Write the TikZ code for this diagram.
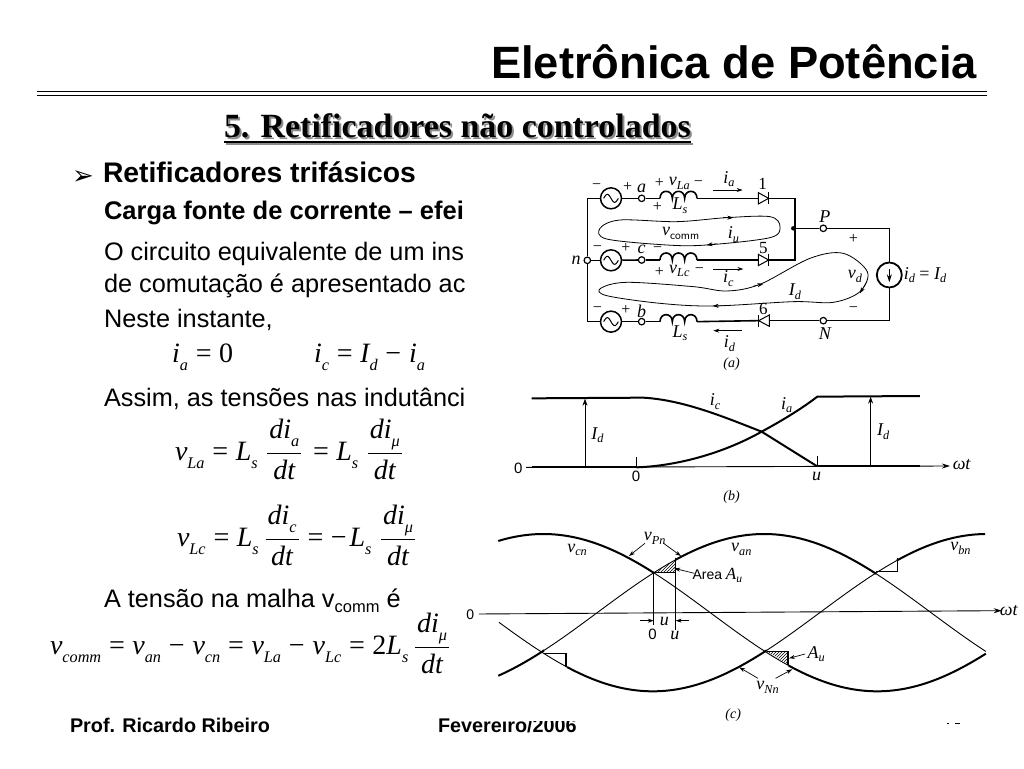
\documentclass[tikz,border=0pt]{standalone}
\usepackage{fontspec}
\usetikzlibrary{patterns,arrows.meta}
\setmainfont{Liberation Sans}
\newfontfamily\tms{Liberation Serif}
\newfontfamily\djv{DejaVu Sans}
\newcommand{\px}[1]{\fontsize{#1pt}{#1pt}\selectfont}
\newcommand{\sbx}[1]{\raisebox{-.3em}{\scalebox{.58}{#1}}}
\newcommand{\lsb}[1]{\raisebox{-.2em}{\scalebox{.68}{#1}}}
\newcommand{\frc}[2]{\raisebox{4.5pt}{$\vcenter{\hbox{$\displaystyle{\hbox{\hspace{2pt}\raisebox{5pt}{#1}\hspace{2pt}}\above 1pt\hbox{\rule{0pt}{22pt}#2}}$}}$}}
\newcommand{\eqm}{\hspace{.22em}=\hspace{.22em}}
\newcommand{\eqn}{\hspace{.28em}{\upshape −}\hspace{.28em}}
\newcommand{\coil}[2]{\draw[wire] (#1,#2) .. controls +(0,-28) and +(0,-28) .. +(37,0)
   .. controls +(0,-28) and +(0,-28) .. +(74,0)
   .. controls +(0,-28) and +(0,-28) .. +(111,0);}
\tikzset{
  txt/.style={anchor=base west,inner sep=0pt,outer sep=0pt},
  eq/.style={anchor=base west,inner sep=0pt,outer sep=0pt,font=\tms\px{28}\itshape},
  body/.style={txt,font=\px{25.3}},
  lab/.style={inner sep=0pt,font=\tms\px{18}\itshape},
  wire/.style={line width=1.6pt},
  thinl/.style={line width=.9pt},
  thk/.style={line width=2pt},
  arr/.style={line width=.7pt,-{Stealth[length=6pt,width=4pt]}},
  term/.style={circle,draw,line width=1.2pt,fill=white,minimum size=6.5pt,inner sep=0pt},
  src/.style={circle,draw,line width=1.5pt,fill=white,minimum size=21pt,inner sep=0pt},
  declare function={cvA(\t)=308-236*sin((\t-360)/945*180);
                    cvB(\t)=308-236*sin((\t-990)/945*180);
                    cvC(\t)=308+236*sin((\t-680)/945*180);},
}
\begin{document}
\begin{tikzpicture}[x=1pt,y=-1pt]
\useasboundingbox (0,0) rectangle (1024,768);
\fill[white] (0,0) rectangle (1024,768);
% header
\node[txt,font=\bfseries\px{45.3}] (title) at (491,78) {Eletrônica de Potência};
\coordinate (ruleL) at (37,95); \coordinate (ruleR) at (987,95);
\draw[line width=1pt] (ruleL) -- (ruleR);
\draw[line width=1pt] ([yshift=3.5pt]ruleL) -- ([yshift=3.5pt]ruleR);
\node[txt,font=\tms\bfseries\px{33.9},text=black!45] (sechadow) at (226,139) {5. Retificadores não controlados};
\node[txt,font=\tms\bfseries\px{33.9}] (sec) at (224,137) {5. Retificadores não controlados};
\coordinate (ulL) at (224,142); \coordinate (ulR) at (691,142);
\draw[black!45,line width=2pt] ([shift={(2,2)}]ulL) -- ([shift={(2,2)}]ulR);
\draw[line width=2pt] (ulL) -- (ulR);
% text
\node[txt,font=\djv\px{26}] (bullet) at (72,184) {➢};
\node[txt,font=\bfseries\px{28.3}] (h1) at (103,182) {Retificadores trifásicos};
\node[txt,font=\bfseries\px{25.5}] (h2) at (104,219) {Carga fonte de corrente – efei};
\node[body] (t1) at (104,260) {O circuito equivalente de um ins};
\node[body] (t2) at (104,292) {de comutação é apresentado ac};
\node[body] (t3) at (104,327) {Neste instante,};
\node[body] (t4) at (104,406) {Assim, as tensões nas indutânci};
\node[body] (t5) at (104,607) {A tensão na malha v\raisebox{-.22em}{\px{16.5}comm} é};
% equations
\node[eq] (e1) at (172,362) {i\sbx{a}\eqm{\upshape 0}};
\node[eq] (e2) at (314,362) {i\sbx{c}\eqm I\sbx{d}\eqn i\sbx{a}};
\node[eq] (e3) at (175,460) {v\sbx{La}\eqm L\sbx{s}\hspace{.3em}\frc{di\sbx{a}}{dt}\hspace{.1em}\eqm L\sbx{s}\hspace{.3em}\frc{di\sbx{μ}}{dt}};
\node[eq] (e4) at (177,546) {v\sbx{Lc}\eqm L\sbx{s}\hspace{.2em}\frc{di\sbx{c}}{dt}\eqm{\upshape −}\hspace{.1em}L\sbx{s}\hspace{.3em}\frc{di\sbx{μ}}{dt}};
\node[eq] (e5) at (50,654) {v\sbx{comm}\eqm v\sbx{an}\eqn v\sbx{cn}\eqm v\sbx{La}\eqn v\sbx{Lc}\eqm{\upshape 2}L\sbx{s}\hspace{.2em}\frc{di\sbx{μ}}{dt}};
% footer
\node[txt,font=\bfseries\px{19.8}] (f1) at (70,732) {Prof. Ricardo Ribeiro};
\node[txt,font=\bfseries\px{19.8}] (f2) at (438,732) {Fevereiro/2006};
\fill[white] (468,700) rectangle (1024,721);
\draw[line width=1pt] (947,723) -- (949,723) (955,723) -- (960,723);

% ---------- circuit (a)
\begin{scope}[shift={(560,165)},x=.3333pt,y=-.3333pt]
\node[src] (sa) at (153,100) {};
\node[src] (sc) at (153,286) {};
\node[src] (sb) at (153,470) {};
\node[term] (ta) at (245,100) {};
\node[term] (tc) at (245,285) {};
\node[term] (tb) at (245,470) {};
\node[term] (tn) at (82,286) {};
\node[term] (tP) at (790,190) {};
\node[term] (tN) at (790,467) {};
\node[circle,draw,line width=1.8pt,minimum size=25pt,inner sep=0pt] (cs) at (988,330) {};
\node[circle,fill,minimum size=4.5pt,inner sep=0pt] (jP) at (700,190) {};
\coordinate (la1) at (300,100); \coordinate (la2) at (411,100);
\coordinate (lc1) at (300,285); \coordinate (lc2) at (411,285);
\coordinate (lb1) at (300,470); \coordinate (lb2) at (411,470);
\coordinate (d1a) at (595,100); \coordinate (d1k) at (626,100);
\coordinate (d5a) at (595,285); \coordinate (d5k) at (626,285);
\coordinate (d6a) at (628,467); \coordinate (d6k) at (596,467);
\draw[wire] (sa) -- (ta); \draw[wire] (sc) -- (tc); \draw[wire] (sb) -- (tb);
\draw[wire] (ta) -- (la1); \draw[wire] (tc) -- (lc1); \draw[wire] (tb) -- (lb1);
\draw[wire] (la2) -- (d1a); \draw[wire] (lc2) -- (d5a); \draw[wire] (lb2) -- (d6k);
\draw[wire] (sa) -- (82,100) -- (tn) -- (82,470) -- (sb);
\draw[wire] (tn) -- (sc);
\draw[wire] (d1k) -- (705,100) |- (d5k);
\draw[wire] (jP) -- (tP);
\draw[wire] (tP) -| (cs);
\draw[wire] (cs) |- (tN);
\draw[wire] (tN) -- (d6a);
\coil{300}{100}\coil{300}{285}\coil{300}{470}
\foreach \sy in {100,286,470}{
  \draw[line width=1pt,domain=0:360,samples=25,smooth] plot ({153-22+\x/360*44},{\sy-12*sin(\x)});
}
\foreach \dy in {100,285}{
  \draw[line width=1pt,fill=white] (595,\dy-17) -- (595,\dy+17) -- (626,\dy) -- cycle;
  \draw[wire] (626,\dy-18) -- (626,\dy+18);
}
\draw[line width=1pt,fill=white] (628,450) -- (628,484) -- (596,467) -- cycle;
\draw[wire] (596,449) -- (596,485);
\draw[line width=1pt,-{Stealth[length=8pt,width=5pt]}] (988,312) -- (988,352);
% loops
\draw[line width=.8pt,smooth cycle,tension=.55] plot coordinates {(120,190)(180,165)(350,170)(500,158)(630,155)(660,185)(630,218)(440,240)(320,240)(140,222)};
\draw[line width=.8pt,smooth cycle,tension=.55] plot coordinates {(122,370)(200,352)(400,365)(500,378)(600,358)(750,280)(850,265)(922,320)(900,380)(820,412)(700,410)(460,423)(300,415)(140,392)};
\foreach \a/\b in {{(490,158)}/{(520,158)},{(470,236)}/{(440,240)},{(580,363)}/{(610,357)},{(920,350)}/{(900,385)},{(490,422)}/{(458,423)}}{
  \draw[arr,line width=.5pt] \a -- \b;
}
\draw[arr] (460,75) -- (548,75);
\draw[arr] (460,312) -- (550,312);
\draw[arr] (545,497) -- (460,497);
\foreach \p/\t in {(110,65)/−,(203,65)/+,(298,55)/+,(415,55)/−,(292,125)/+,(880,222)/+,(112,250)/−,(198,250)/+,(293,255)/−,(298,320)/+,(418,318)/−,(880,435)/−,(112,435)/−,(198,435)/+}{
  \node[lab,font=\tms\px{16}] at \p {\t};
}
\node[lab] (la) at (245,70) {a};
\node[lab] (lvla) at (358,55) {v\lsb{La}};
\node[lab] (lia) at (507,42) {i\lsb{a}};
\node[lab,font=\tms\px{17}] (l1) at (608,58) {1};
\node[lab] (lls1) at (360,122) {L\lsb{s}};
\node[lab] (lP) at (795,155) {P};
\node[lab] (lvc) at (362,205) {v{\upshape\lsb{\sffamily comm}}};
\node[lab] (liu) at (520,208) {i\lsb{u}};
\node[lab] (lc) at (245,252) {c};
\node[lab,font=\tms\px{17}] (l5) at (610,248) {5};
\node[lab] (ln) at (48,285) {n};
\node[lab] (lvlc) at (358,318) {v\lsb{Lc}};
\node[lab] (lic) at (505,340) {i\lsb{c}};
\node[lab] (lvd) at (885,335) {v\lsb{d}};
\node[lab] (lId) at (705,380) {I\lsb{d}};
\node[lab] (lidId) at (1095,330) {i\lsb{d} {\upshape =} I\lsb{d}};
\node[lab] (lb) at (245,438) {b};
\node[lab,font=\tms\px{17}] (l6) at (610,432) {6};
\node[lab] (lN) at (795,505) {N};
\node[lab] (lls2) at (360,505) {L\lsb{s}};
\node[lab] (lid) at (508,535) {i\lsb{d}};
\node[lab,font=\tms\px{14}\itshape] (capa) at (515,598) {(a)};
\end{scope}

% ---------- plot (b)
\begin{scope}[shift={(470,380)},x=.3333pt,y=-.3333pt]
\draw[line width=.9pt,-{Stealth[length=8pt,width=5pt]}] (168,262) -- (1440,258);
\draw[thk] (185,262) -- (500,262);
\draw[thk] (1043,258) -- (1350,258);
\draw[line width=.9pt] (498,232) -- (498,262);
\draw[line width=.9pt] (1043,228) -- (1043,258);
\draw[thk] (185,55) -- (520,53) .. controls (640,60) and (760,110) .. (875,155) -- (1040,258);
\draw[thk] (500,262) .. controls (620,258) and (760,220) .. (875,155) .. controls (930,125) and (990,90) .. (1042,50) -- (1350,48);
\draw[line width=.9pt,-{Stealth[length=7pt,width=5pt]}] (345,262) -- (345,56);
\draw[line width=.9pt,-{Stealth[length=7pt,width=5pt]}] (1202,258) -- (1202,50);
\node[lab] (bic) at (735,65) {i\lsb{c}};
\node[lab] (bia) at (950,75) {i\lsb{a}};
\node[lab] (bI1) at (382,165) {I\lsb{d}};
\node[lab] (bI2) at (1240,155) {I\lsb{d}};
\node[lab,font=\px{15}] (b0a) at (145,265) {0};
\node[lab,font=\px{15}] (b0b) at (498,290) {0};
\node[lab] (bu) at (1040,290) {u};
\node[lab] (bwt) at (1475,255) {ωt};
\node[lab,font=\tms\px{14}\itshape] (capb) at (785,350) {(b)};
\end{scope}

% ---------- plot (c)
\begin{scope}[shift={(470,510)},x=.3533pt,y=-.3333pt]
\draw[line width=.9pt,-{Stealth[length=8pt,width=5pt]}] (25,312) -- (1505,302);
\draw[thk,smooth,samples=12,domain=80:210] plot (\x,{cvA(\x)});
\draw[thinl,smooth,samples=20,domain=210:582] plot (\x,{cvA(\x)});
\draw[thk,smooth,samples=40,domain=582:1150] plot (\x,{cvA(\x)});
\draw[thinl,smooth,samples=20,domain=1150:1460] plot (\x,{cvA(\x)});
\draw[thinl,smooth,samples=12,domain=82:275] plot (\x,{cvB(\x)});
\draw[thk,smooth,samples=40,domain=275:840] plot (\x,{cvB(\x)});
\draw[thinl,smooth,samples=20,domain=840:1208] plot (\x,{cvB(\x)});
\draw[thk,smooth,samples=20,domain=1208:1458] plot (\x,{cvB(\x)});
\draw[thk,smooth,samples=30,domain=80:520] plot (\x,{cvC(\x)});
\draw[thinl,smooth,samples=25,domain=520:902] plot (\x,{cvC(\x)});
\draw[thk,smooth,samples=30,domain=902:1460] plot (\x,{cvC(\x)});
\fill[pattern=north east lines] (525,188) -- (582,188) -- (582,148) -- cycle;
\fill[pattern=north east lines] (840,425) -- (900,425) -- (900,462) -- cycle;
\draw[line width=1.4pt] (520,188) -- (582,188);
\draw[line width=1.2pt] (582,145) -- (582,188);
\draw[line width=.9pt] (582,188) -- (582,360);
\draw[line width=.9pt] (520,188) -- (520,345);
\draw[line width=1.4pt] (1150,185) -- (1210,185) -- (1210,145);
\draw[line width=1.4pt] (210,430) -- (272,430) -- (272,470);
\draw[line width=1.4pt] (840,425) -- (900,425) -- (900,465);
\draw[arr] (495,100) -- (450,138);
\draw[arr] (548,100) -- (597,138);
\draw[arr] (635,190) -- (578,175);
\draw[arr] (480,332) -- (520,332);
\draw[arr] (620,332) -- (582,332);
\draw[arr] (948,432) -- (903,445);
\draw[arr] (815,505) -- (762,472);
\draw[arr] (865,505) -- (912,478);
\node[lab] (cvcn) at (303,120) {v\lsb{cn}};
\node[lab] (cvpn) at (523,85) {v\lsb{Pn}};
\node[lab] (cvan) at (768,118) {v\lsb{an}};
\node[lab] (cvbn) at (1388,115) {v\lsb{bn}};
\node[lab,font=\px{14}] (carea) at (700,197) {Area {\tms\itshape\px{17}A\lsb{u}}};
\node[lab] (cu1) at (550,335) {u};
\node[lab,font=\px{15}] (c0) at (517,373) {0};
\node[lab] (cu2) at (580,375) {u};
\node[lab] (cwt) at (1525,303) {ωt};
\node[lab] (cau) at (980,432) {A\lsb{u}};
\node[lab] (cvnn) at (842,532) {v\lsb{Nn}};
\node[lab,font=\tms\px{14}\itshape] (capc) at (745,615) {(c)};
\node[lab,font=\px{14}] (c00) at (1,313) {0};
\end{scope}
\end{tikzpicture}
\end{document}
